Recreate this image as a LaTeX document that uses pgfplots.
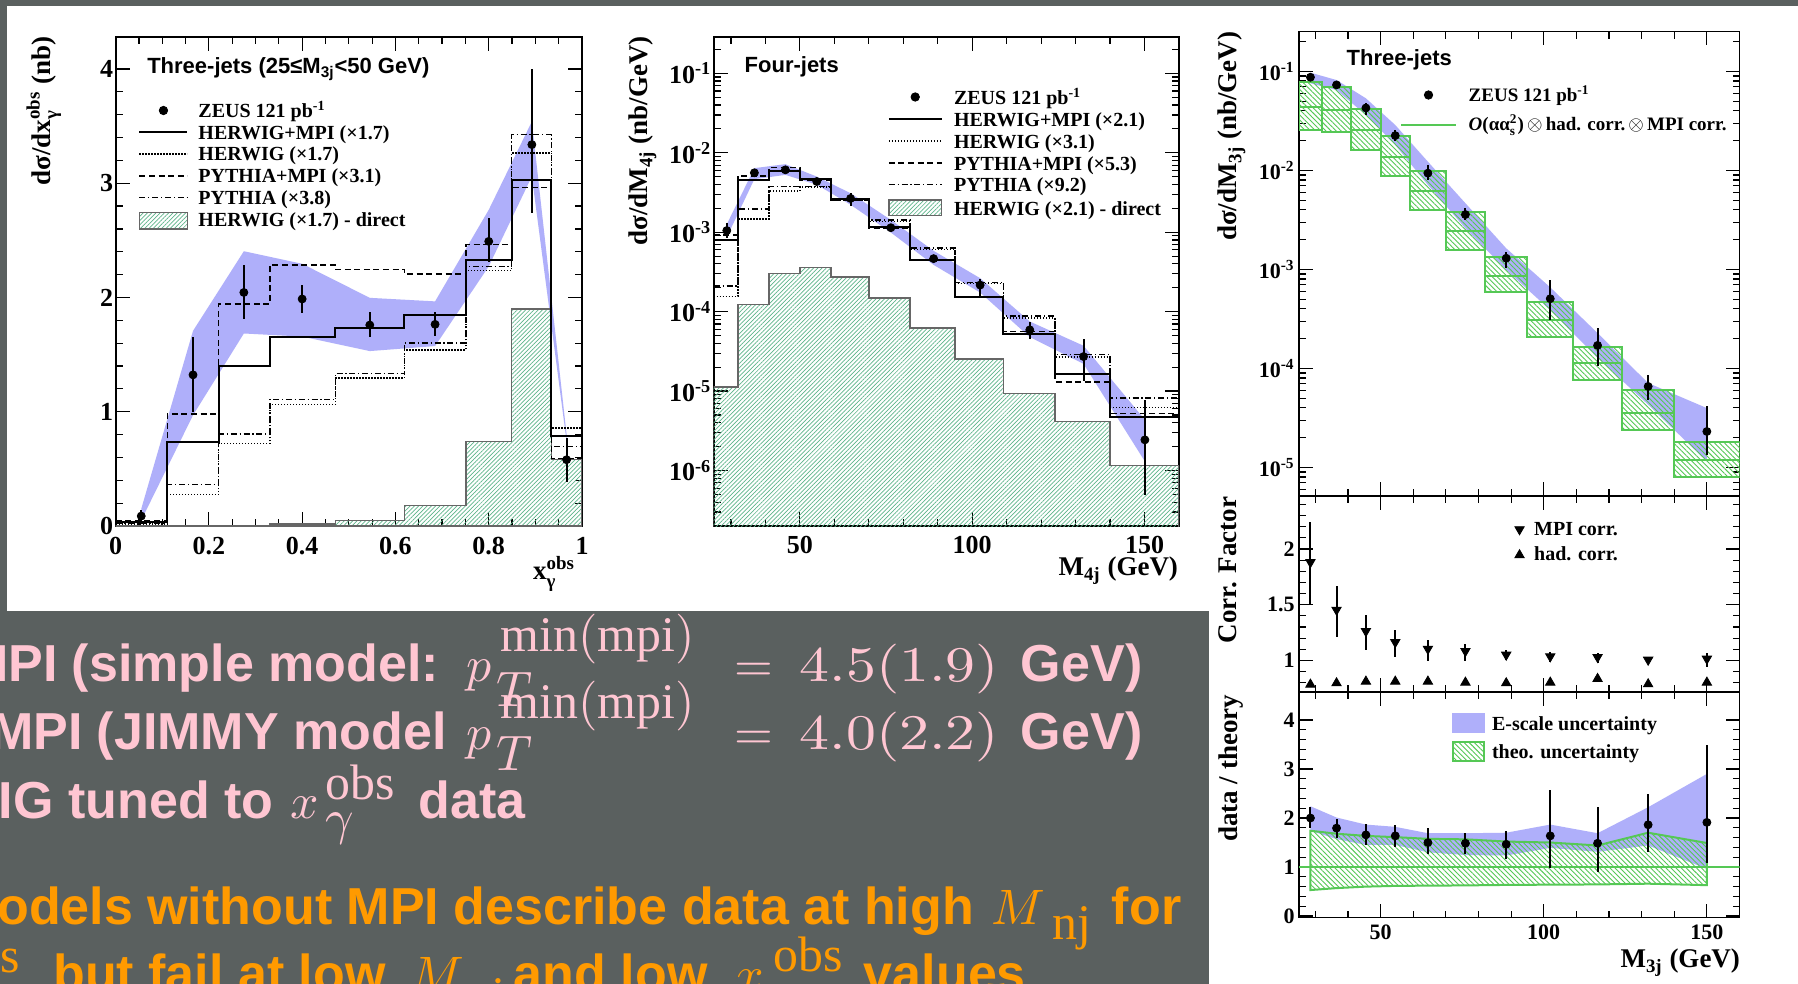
\documentclass[border=0pt]{standalone}
\usepackage{amsmath}
\usepackage{graphicx}
\usepackage{fontspec}
\setmainfont{Liberation Serif}
\setsansfont{Liberation Sans}
\usepackage{pgfplots}
\pgfplotsset{compat=1.18}
\usetikzlibrary{patterns.meta}

\definecolor{bgray}{HTML}{5A605F}
\definecolor{escale}{HTML}{AFAFFA}
\definecolor{theo}{HTML}{55C855}
\definecolor{hatchg}{HTML}{5DB58A}
\definecolor{pinkc}{HTML}{FFC6D2}
\definecolor{orangec}{HTML}{FF9A00}

\tikzset{
  hwmpi/.style={black, line width=1bp},
  hwo/.style={black, line width=0.7bp, dash pattern=on 0.6bp off 0.9bp},
  pympi/.style={black, line width=0.7bp, dash pattern=on 3bp off 1.8bp},
  pyo/.style={black, line width=0.7bp, dash pattern=on 3bp off 1.4bp on 0.6bp off 1.4bp},
  direct/.style={draw=black!60, line width=0.7bp, pattern={Lines[angle=45,distance=1.5bp,line width=0.35bp]}, pattern color=hatchg},
  theobox/.style={draw=theo, line width=1bp, pattern={Lines[angle=-45,distance=1.8bp,line width=0.45bp]}, pattern color=theo},
  band/.style={fill=escale, draw=none},
}
\newcommand\tickf{\bfseries\fontsize{13bp}{13bp}\selectfont}
\newcommand\tickfs{\bfseries\fontsize{11bp}{11bp}\selectfont}
\newcommand\legf{\bfseries\fontsize{10bp}{10bp}\selectfont}
\newcommand\legfs{\bfseries\fontsize{9.5bp}{9.5bp}\selectfont}
\newcommand\labf{\bfseries\fontsize{13.5bp}{13.5bp}\selectfont}
\newcommand\titf{\sffamily\bfseries\fontsize{11bp}{11bp}\selectfont}
\newcommand\slsf{\sffamily\bfseries\fontsize{26bp}{26bp}\selectfont}
\newcommand\sm[1]{\scalebox{2.5}{$#1$}}
\newcommand\smw[1]{\scalebox{3.0}[2.5]{$#1$}}

\pgfplotsset{
  rootaxis/.style={
    scale only axis, anchor=south west, tick pos=both, tick align=inside,
    major tick length=7bp, minor tick length=3.5bp,
    every tick/.style={black, line width=0.6bp},
    axis line style={black, line width=0.9bp},
    ticklabel style={font=\tickf},
    yticklabel style={inner sep=1bp},
  },
  rootleg/.style={legend style={draw=none, fill=none, inner sep=0pt, outer sep=0pt,
      anchor=north west, cells={anchor=base west},
      nodes={inner sep=0pt, text height=7bp, text depth=2bp}}},
  dataerr/.style={black, only marks, mark=*, mark size=2bp, forget plot,
      error bars/.cd, y dir=both, y explicit, error mark=none,
      error bar style={black, line width=1bp}},
}

\begin{document}
\begin{tikzpicture}
\path[use as bounding box] (0,0) rectangle (899bp,-492bp);
\clip (0,0) rectangle (899bp,-492bp);
\begin{scope}[x=0.5bp,y=-0.5bp]
\fill[white] (0,0) rectangle (1798,984);
\fill[bgray] (0,0) rectangle (1798,6);
\fill[bgray] (0,0) rectangle (7,611);
\fill[bgray] (0,611) rectangle (1209,984);
\end{scope}

% ================= LEFT PANEL =================
\begin{axis}[rootaxis, rootleg, at={(57.8bp,-263bp)}, width=233.2bp, height=244.5bp,
  xmin=0, xmax=1, ymin=0, ymax=4.28,
  xtick={0,0.2,0.4,0.6,0.8,1}, xticklabels={0,0.2,0.4,0.6,0.8,1}, minor x tick num=3,
  ytick={0,1,2,3,4}, yticklabels={0,1,2,3,4}, minor y tick num=4,
  xticklabel style={yshift=-2bp},
  legend style={at={(0.049,0.864)}, font=\legf, row sep=1.85bp, column sep=5bp},
]
\addlegendimage{legend image code/.code={\fill[black] (12bp,3.5bp) circle (2.1bp);}}
\addlegendentry{ZEUS 121 pb\textsuperscript{-1}}
\addlegendimage{legend image code/.code={\draw[hwmpi] (0bp,3.4bp) -- (24bp,3.4bp);}}
\addlegendentry{HERWIG+MPI (×1.7)}
\addlegendimage{legend image code/.code={\draw[hwo] (0bp,3.4bp) -- (24bp,3.4bp);}}
\addlegendentry{HERWIG (×1.7)}
\addlegendimage{legend image code/.code={\draw[pympi] (0bp,3.4bp) -- (24bp,3.4bp);}}
\addlegendentry{PYTHIA+MPI (×3.1)}
\addlegendimage{legend image code/.code={\draw[pyo] (0bp,3.4bp) -- (24bp,3.4bp);}}
\addlegendentry{PYTHIA (×3.8)}
\addlegendimage{legend image code/.code={\draw[direct] (0bp,-0.95bp) rectangle (24bp,7.1bp);}}
\addlegendentry{HERWIG (×1.7) - direct}

\addplot[band, forget plot] coordinates {(0.055,0.15) (0.166,1.708) (0.275,2.405) (0.4,2.295) (0.545,1.997) (0.685,1.966) (0.8,2.767) (0.8925,3.54) (0.967,0.80) (0.967,0.74) (0.8925,3.06) (0.8,2.272) (0.685,1.575) (0.545,1.531) (0.4,1.658) (0.275,1.685) (0.166,0.97) (0.055,0.05)} -- cycle;
\addplot[direct, const plot, forget plot] coordinates {(0,0) (0.111,0) (0.221,0.004) (0.331,0.016) (0.471,0.046) (0.619,0.177) (0.751,0.74) (0.849,1.9) (0.934,0.58) (1,0.58) (1,0)} -- cycle;
\addplot[pyo, const plot, forget plot] coordinates {(0,0.023) (0.111,0.362) (0.221,0.807) (0.331,1.109) (0.471,1.337) (0.619,1.601) (0.751,2.272) (0.849,3.425) (0.934,0.696) (1,0.696)};
\addplot[pympi, const plot, forget plot] coordinates {(0,0.044) (0.111,0.98) (0.221,1.943) (0.331,2.285) (0.471,2.245) (0.619,2.204) (0.751,2.462) (0.849,2.962) (0.934,0.589) (1,0.589)};
\addplot[hwo, const plot, forget plot] coordinates {(0,0.017) (0.111,0.275) (0.221,0.72) (0.331,1.062) (0.471,1.296) (0.619,1.541) (0.751,2.235) (0.849,3.265) (0.934,0.857) (1,0.857)};
\addplot[hwmpi, const plot, forget plot] coordinates {(0,0.034) (0.111,0.737) (0.221,1.40) (0.331,1.658) (0.471,1.732) (0.619,1.849) (0.751,2.325) (0.849,3.027) (0.934,0.784) (1,0.784)};
\addplot[dataerr] coordinates {
 (0.055,0.087) += (0,0.05) -= (0,0.05)
 (0.166,1.323) += (0,0.329) -= (0,0.325)
 (0.275,2.044) += (0,0.241) -= (0,0.228)
 (0.400,1.987) += (0,0.123) -= (0,0.121)
 (0.545,1.759) += (0,0.114) -= (0,0.101)
 (0.685,1.765) += (0,0.111) -= (0,0.100)
 (0.800,2.491) += (0,0.205) -= (0,0.184)
 (0.8925,3.338) += (0,0.666) -= (0,0.598)
 (0.967,0.580) += (0,0.190) -= (0,0.199)
};
\end{axis}

% ================= MIDDLE PANEL =================
\begin{axis}[rootaxis, rootleg, ymode=log, at={(356.85bp,-263bp)}, width=232.65bp, height=244.5bp,
  xmin=25, xmax=160, ymin=2e-7, ymax=0.287,
  xtick={50,100,150}, xticklabels={50,100,150},
  minor xtick={30,40,60,70,80,90,110,120,130,140},
  xticklabel style={yshift=-1.5bp},
  ytick={1e-6,1e-5,1e-4,1e-3,1e-2,1e-1},
  yticklabels={10\textsuperscript{-6},10\textsuperscript{-5},10\textsuperscript{-4},10\textsuperscript{-3},10\textsuperscript{-2},10\textsuperscript{-1}},
  minor ytick={2e-7,3e-7,4e-7,5e-7,6e-7,7e-7,8e-7,9e-7,2e-6,3e-6,4e-6,5e-6,6e-6,7e-6,8e-6,9e-6,2e-5,3e-5,4e-5,5e-5,6e-5,7e-5,8e-5,9e-5,2e-4,3e-4,4e-4,5e-4,6e-4,7e-4,8e-4,9e-4,2e-3,3e-3,4e-3,5e-3,6e-3,7e-3,8e-3,9e-3,0.02,0.03,0.04,0.05,0.06,0.07,0.08,0.09,0.2},
  legend style={at={(0.3742,0.8896)}, font=\legf, row sep=1.85bp, column sep=5.7bp},
]
\addlegendimage{legend image code/.code={\fill[black] (13.2bp,4bp) circle (2.1bp);}}
\addlegendentry{ZEUS 121 pb\textsuperscript{-1}}
\addlegendimage{legend image code/.code={\draw[hwmpi] (0bp,3.6bp) -- (26.4bp,3.6bp);}}
\addlegendentry{HERWIG+MPI (×2.1)}
\addlegendimage{legend image code/.code={\draw[hwo] (0bp,3.6bp) -- (26.4bp,3.6bp);}}
\addlegendentry{HERWIG (×3.1)}
\addlegendimage{legend image code/.code={\draw[pympi] (0bp,3.6bp) -- (26.4bp,3.6bp);}}
\addlegendentry{PYTHIA+MPI (×5.3)}
\addlegendimage{legend image code/.code={\draw[pyo] (0bp,3.6bp) -- (26.4bp,3.6bp);}}
\addlegendentry{PYTHIA (×9.2)}
\addlegendimage{legend image code/.code={\draw[direct] (0bp,-0.15bp) rectangle (26.4bp,7.65bp);}}
\addlegendentry{HERWIG (×2.1) - direct}

\addplot[band, forget plot] coordinates {(28.8,1.26e-3) (36.8,6.41e-3) (45.8,7.19e-3) (54.9,5.02e-3) (64.7,3.10e-3) (76.4,1.43e-3) (88.8,5.83e-4) (102.3,2.64e-4) (116.7,7.52e-5) (132.3,3.72e-5) (150.1,4.35e-6) (150.1,1.30e-6) (132.3,2.20e-5) (116.7,4.78e-5) (102.3,1.74e-4) (88.8,3.88e-4) (76.4,9.91e-4) (64.7,2.22e-3) (54.9,3.97e-3) (45.8,5.27e-3) (36.8,4.66e-3) (28.8,8.67e-4)} -- cycle;
\addplot[direct, const plot, forget plot] coordinates {(25,1e-9) (25,1.12e-5) (32,1.23e-4) (41,3.0e-4) (50,3.58e-4) (59,2.72e-4) (70,1.48e-4) (82,6.2e-5) (95,2.54e-5) (109,9.4e-6) (124,4.14e-6) (140,1.15e-6) (160,1.15e-6) (160,1e-9)} -- cycle;
\addplot[pyo, const plot, forget plot] coordinates {(25,2.1e-4) (32,1.95e-3) (41,3.75e-3) (50,3.75e-3) (59,2.55e-3) (70,1.43e-3) (82,6.3e-4) (95,2.34e-4) (109,8.8e-5) (124,2.88e-5) (140,8.2e-6) (160,8.2e-6)};
\addplot[hwo, const plot, forget plot] coordinates {(25,1.55e-4) (32,1.46e-3) (41,3.3e-3) (50,3.7e-3) (59,2.5e-3) (70,1.36e-3) (82,6.1e-4) (95,2.25e-4) (109,8.3e-5) (124,2.7e-5) (140,6.2e-6) (160,6.2e-6)};
\addplot[pympi, const plot, forget plot] coordinates {(25,9.2e-4) (32,5.1e-3) (41,6.5e-3) (50,4.55e-3) (59,2.55e-3) (70,1.12e-3) (82,4.4e-4) (95,1.5e-4) (109,5.6e-5) (124,1.3e-5) (140,5.2e-6) (160,5.2e-6)};
\addplot[hwmpi, const plot, forget plot] coordinates {(25,8.0e-4) (32,4.6e-3) (41,5.9e-3) (50,4.65e-3) (59,2.64e-3) (70,1.16e-3) (82,4.5e-4) (95,1.53e-4) (109,5.22e-5) (124,1.62e-5) (140,4.7e-6) (160,4.7e-6)};
\addplot[dataerr] coordinates {
 (28.8,1.05e-3) += (0,2.6e-4) -= (0,2.1e-4)
 (36.8,5.6e-3) += (0,5e-4) -= (0,5e-4)
 (45.8,6.1e-3) += (0,4e-4) -= (0,4e-4)
 (54.9,4.35e-3) += (0,4e-4) -= (0,4e-4)
 (64.7,2.66e-3) += (0,4.4e-4) -= (0,5.1e-4)
 (76.4,1.14e-3) += (0,1.3e-4) -= (0,1.3e-4)
 (88.8,4.65e-4) += (0,4.5e-5) -= (0,4.5e-5)
 (102.3,2.16e-4) += (0,4.1e-5) -= (0,6.8e-5)
 (116.7,5.9e-5) += (0,1.6e-5) -= (0,1.4e-5)
 (132.3,2.72e-5) += (0,1.83e-5) -= (0,1.4e-5)
 (150.1,2.43e-6) += (0,5.33e-6) -= (0,1.936e-6)
};
\end{axis}

% ================= RIGHT TOP =================
\begin{axis}[rootaxis, rootleg, ymode=log, at={(649.5bp,-248bp)}, width=220.25bp, height=232.25bp,
  xmin=25, xmax=160, ymin=5.15e-6, ymax=0.2535,
  xtick={50,100,150}, xticklabels={}, minor xtick={30,40,60,70,80,90,110,120,130,140},
  ytick={1e-5,1e-4,1e-3,1e-2,1e-1},
  yticklabels={10\textsuperscript{-5},10\textsuperscript{-4},10\textsuperscript{-3},10\textsuperscript{-2},10\textsuperscript{-1}},
  minor ytick={6e-6,7e-6,8e-6,9e-6,2e-5,3e-5,4e-5,5e-5,6e-5,7e-5,8e-5,9e-5,2e-4,3e-4,4e-4,5e-4,6e-4,7e-4,8e-4,9e-4,2e-3,3e-3,4e-3,5e-3,6e-3,7e-3,8e-3,9e-3,0.02,0.03,0.04,0.05,0.06,0.07,0.08,0.09,0.2},
  ticklabel style={font=\tickfs}, yticklabel style={inner sep=2bp},
  legend style={at={(0.2293,0.879)}, font=\legfs, row sep=5.5bp, column sep=5.85bp},
]
\addlegendimage{legend image code/.code={\fill[black] (13.75bp,3.35bp) circle (2.1bp);}}
\addlegendentry{ZEUS 121 pb\textsuperscript{-1}}
\addlegendimage{legend image code/.code={\draw[theo, line width=1bp] (0bp,2.85bp) -- (27.5bp,2.85bp);}}
\addlegendentry{{\itshape O}(αα$_{\text{s}}^{\text{2}}$)\,$\otimes$\,had. corr.\,$\otimes$\,MPI corr.}

\addplot[band, forget plot] coordinates {(28.5,0.0973) (36.5,0.082) (45.5,0.0536) (54.5,0.0288) (64.5,0.01227) (76,0.00467) (88.5,0.001637) (102,6.6e-4) (116.5,2.28e-4) (132,7.13e-5) (150,3.98e-5) (150,1.15e-5) (132,4.31e-5) (116.5,1.28e-4) (102,3.89e-4) (88.5,9.89e-4) (76,0.0026) (64.5,0.00714) (54.5,0.0181) (45.5,0.0364) (36.5,0.065) (28.5,0.076)} -- cycle;
\addplot[theobox, forget plot] coordinates {(25,0.0257) (32,0.0257) (32,0.0778) (25,0.0778)} -- cycle;
\addplot[theobox, forget plot] coordinates {(32,0.0244) (41,0.0244) (41,0.069) (32,0.069)} -- cycle;
\addplot[theobox, forget plot] coordinates {(41,0.0162) (50,0.0162) (50,0.042) (41,0.042)} -- cycle;
\addplot[theobox, forget plot] coordinates {(50,0.0087) (59,0.0087) (59,0.0222) (50,0.0222)} -- cycle;
\addplot[theobox, forget plot] coordinates {(59,0.0040) (70,0.0040) (70,0.0098) (59,0.0098)} -- cycle;
\addplot[theobox, forget plot] coordinates {(70,0.00159) (82,0.00159) (82,0.0038) (70,0.0038)} -- cycle;
\addplot[theobox, forget plot] coordinates {(82,5.9e-4) (95,5.9e-4) (95,1.325e-3) (82,1.325e-3)} -- cycle;
\addplot[theobox, forget plot] coordinates {(95,2.06e-4) (109,2.06e-4) (109,4.69e-4) (95,4.69e-4)} -- cycle;
\addplot[theobox, forget plot] coordinates {(109,7.7e-5) (124,7.7e-5) (124,1.65e-4) (109,1.65e-4)} -- cycle;
\addplot[theobox, forget plot] coordinates {(124,2.4e-5) (140,2.4e-5) (140,6.1e-5) (124,6.1e-5)} -- cycle;
\addplot[theobox, forget plot] coordinates {(140,8.0e-6) (160,8.0e-6) (160,1.81e-5) (140,1.81e-5)} -- cycle;
\addplot[theo, line width=1bp, const plot, forget plot] coordinates {(25,0.0435) (32,0.041) (41,0.0256) (50,0.0138) (59,0.0062) (70,0.00243) (82,8.65e-4) (95,3.06e-4) (109,1.14e-4) (124,3.55e-5) (140,1.2e-5) (160,1.2e-5)};
\addplot[dataerr] coordinates {
 (28.5,0.0875) += (0,0.0075) -= (0,0.0065)
 (36.5,0.0732) += (0,0.006) -= (0,0.006)
 (45.5,0.0428) += (0,0.0054) -= (0,0.0061)
 (54.5,0.0225) += (0,0.003) -= (0,0.0027)
 (64.5,0.0094) += (0,0.0019) -= (0,0.0013)
 (76,0.00359) += (0,0.0006) -= (0,0.00045)
 (88.5,0.0013) += (0,0.0002) -= (0,0.00026)
 (102,5.07e-4) += (0,2.81e-4) -= (0,2.01e-4)
 (116.5,1.71e-4) += (0,8.5e-5) -= (0,6.4e-5)
 (132,6.59e-5) += (0,2.06e-5) -= (0,1.76e-5)
 (150,2.31e-5) += (0,1.89e-5) -= (0,0.97e-5)
};
\end{axis}

% ================= RIGHT MIDDLE =================
\begin{axis}[rootaxis, rootleg, at={(649.5bp,-346bp)}, width=220.25bp, height=98bp,
  xmin=25, xmax=160, ymin=0.7175, ymax=2.475,
  xtick={50,100,150}, xticklabels={}, minor xtick={30,40,60,70,80,90,110,120,130,140},
  ytick={1,1.5,2}, yticklabels={1,1.5,2},
  minor ytick={0.8,0.9,1.1,1.2,1.3,1.4,1.6,1.7,1.8,1.9,2.1,2.2,2.3,2.4},
  ticklabel style={font=\tickfs}, yticklabel style={inner sep=2bp},
  legend style={at={(0.49,0.872)}, font=\legf, row sep=3.85bp, column sep=5bp},
]
\addlegendimage{legend image code/.code={\draw[black, mark=triangle*, mark size=2.7bp, mark options={rotate=180, fill=black}] plot coordinates {(6bp,2.85bp)};}}
\addlegendentry{MPI corr.}
\addlegendimage{legend image code/.code={\draw[black, mark=triangle*, mark size=2.7bp, mark options={fill=black}] plot coordinates {(6bp,2.85bp)};}}
\addlegendentry{had. corr.}
\addplot[black, only marks, mark=triangle*, mark size=2.7bp, mark options={rotate=180, fill=black}, forget plot,
  error bars/.cd, y dir=both, y explicit, error mark=none, error bar style={black, line width=1bp}] coordinates {
 (28.5,1.881) += (0,0.358) -= (0,0.382)
 (36.5,1.454) += (0,0.218) -= (0,0.245)
 (45.5,1.263) += (0,0.149) -= (0,0.167)
 (54.5,1.164) += (0,0.111) -= (0,0.134)
 (64.5,1.104) += (0,0.084) -= (0,0.11)
 (76,1.084) += (0,0.065) -= (0,0.09)
 (88.5,1.051) += (0,0.04) -= (0,0.05)
 (102,1.036) += (0,0.04) -= (0,0.05)
 (116.5,1.03) += (0,0.04) -= (0,0.05)
 (132,1.006) += (0,0.01) -= (0,0.01)
 (150,1.015) += (0,0.055) -= (0,0.075)
};
\addplot[black, only marks, mark=triangle*, mark size=2.7bp, mark options={fill=black}, forget plot] coordinates {
 (28.5,0.785) (36.5,0.797) (45.5,0.812) (54.5,0.812) (64.5,0.812) (76,0.803) (88.5,0.797) (102,0.803) (116.5,0.836) (132,0.788) (150,0.803)};
\end{axis}

% ================= RIGHT BOTTOM =================
\begin{axis}[rootaxis, rootleg, at={(649.5bp,-458.75bp)}, width=220.25bp, height=112.75bp,
  xmin=25, xmax=160, ymin=-0.03, ymax=4.571,
  xtick={50,100,150}, xticklabels={50,100,150}, minor xtick={30,40,60,70,80,90,110,120,130,140},
  ytick={0,1,2,3,4}, yticklabels={0,1,2,3,4}, minor y tick num=4,
  ticklabel style={font=\tickfs}, yticklabel style={inner sep=2bp},
  legend style={at={(0.3467,0.906)}, font=\legf, row sep=3.1bp, column sep=3.35bp},
]
\addlegendimage{legend image code/.code={\fill[escale] (0bp,-1.2bp) rectangle (15.8bp,8.4bp);}}
\addlegendentry{E-scale uncertainty}
\addlegendimage{legend image code/.code={\draw[theobox] (0bp,-1.2bp) rectangle (15.8bp,8.4bp);}}
\addlegendentry{theo. uncertainty}
\addplot[band, forget plot] coordinates {(28.5,2.24) (36.5,2.01) (45.5,1.866) (54.5,1.82) (64.5,1.69) (76,1.69) (88.5,1.70) (102,1.866) (116.5,1.69) (132,2.22) (150,2.9) (150,0.96) (132,1.44) (116.5,1.31) (102,1.39) (88.5,1.235) (76,1.245) (64.5,1.30) (54.5,1.45) (45.5,1.45) (36.5,1.57) (28.5,1.74)} -- cycle;
\addplot[theobox, forget plot] coordinates {(28.5,1.74) (36.5,1.68) (45.5,1.635) (54.5,1.61) (64.5,1.575) (76,1.565) (88.5,1.52) (102,1.5) (116.5,1.44) (132,1.70) (150,1.49) (150,0.63) (132,0.66) (116.5,0.645) (102,0.64) (88.5,0.635) (76,0.625) (64.5,0.62) (54.5,0.615) (45.5,0.6) (36.5,0.57) (28.5,0.53)} -- cycle;
\addplot[theo, line width=1bp, forget plot] coordinates {(25,1) (160,1)};
\addplot[dataerr] coordinates {
 (28.5,2.0) += (0,0.22) -= (0,0.21)
 (36.5,1.794) += (0,0.186) -= (0,0.194)
 (45.5,1.656) += (0,0.22) -= (0,0.206)
 (54.5,1.636) += (0,0.224) -= (0,0.226)
 (64.5,1.498) += (0,0.292) -= (0,0.228)
 (76,1.485) += (0,0.215) -= (0,0.225)
 (88.5,1.464) += (0,0.261) -= (0,0.309)
 (102,1.636) += (0,0.928) -= (0,0.653)
 (116.5,1.485) += (0,0.735) -= (0,0.592)
 (132,1.862) += (0,0.619) -= (0,0.549)
 (150,1.911) += (0,1.579) -= (0,0.825)
};
\end{axis}

% ================= TEXT =================
\begin{scope}[x=0.5bp,y=-0.5bp,every node/.style={inner sep=0pt, outer sep=0pt}]
% panel titles
\node[anchor=base west, font=\titf] at (147.3,74) {Three-jets (25≤M\textsubscript{3j}<50 GeV)};
\node[anchor=base west, font=\titf] at (744.7,72.7) {Four-jets};
\node[anchor=base west, font=\titf] at (1346.7,65.5) {Three-jets};
% axis titles
\node[rotate=90, anchor=base east, font=\labf] at (50,36.5) {dσ/dx$^{\text{obs}}_{\text{γ}}$ (nb)};
\node[rotate=90, anchor=base east, font=\labf] at (648,36.5) {dσ/dM$_{\text{4j}}$ (nb/GeV)};
\node[rotate=90, anchor=base east, font=\labf] at (1237,31.7) {dσ/dM$_{\text{3j}}$ (nb/GeV)};
\node[rotate=90, anchor=base east, font=\labf] at (1237,496.7) {Corr. Factor};
\node[rotate=90, anchor=base east, font=\labf] at (1238,695) {data / theory};
\node[anchor=base east, font=\labf] at (575,580) {x$^{\text{obs}}_{\text{γ}}$};
\node[anchor=base east, font=\labf] at (1178,576) {M$_{\text{4j}}$ (GeV)};
\node[anchor=base east, font=\labf] at (1740,968) {M$_{\text{3j}}$ (GeV)};

% slide text
\begin{scope}[every node/.append style={anchor=base west}]
\node[pinkc, font=\slsf] at (-35,681.7) {MPI (simple model:};
\node[pinkc] at (466.6,681.7) {\sm{p}};
\node[pinkc] at (497,707) {\sm{T}};
\node[pinkc] at (501,651.7) {\sm{\mathrm{min(mpi)}}};
\node[pinkc] at (734.4,681.7) {\sm{=}};
\node[pinkc] at (799.7,681.7) {\smw{4.5(1.9)}};
\node[pinkc, font=\slsf] at (1021,681.7) {GeV)};

\node[pinkc, font=\slsf] at (-10,750) {MPI (JIMMY model};
\node[pinkc] at (466.6,750) {\sm{p}};
\node[pinkc] at (497,771) {\sm{T}};
\node[pinkc] at (501,718.3) {\sm{\mathrm{min(mpi)}}};
\node[pinkc] at (734.4,750) {\sm{=}};
\node[pinkc] at (799.7,750) {\smw{4.0(2.2)}};
\node[pinkc, font=\slsf] at (1021,750) {GeV)};

\node[pinkc, font=\slsf] at (-159,818.3) {HERWIG tuned to};
\node[pinkc] at (290.6,818.3) {\sm{x}};
\node[pinkc] at (326,800) {\sm{\mathrm{obs}}};
\node[pinkc] at (326,834.5) {\sm{\gamma}};
\node[pinkc, font=\slsf] at (418.4,818.3) {data};

\node[orangec, font=\slsf] at (-49,925) {models without MPI describe data at high};
\node[orangec] at (991.5,925) {\sm{M}};
\node[orangec] at (1052.7,940) {\sm{\mathrm{nj}}};
\node[orangec, font=\slsf] at (1112,925) {for};

\node[orangec, anchor=base east] at (20,973) {\sm{\mathrm{obs}}};
\node[orangec, font=\slsf] at (53.4,992) {but fail at low};
\node[orangec] at (411,992) {\sm{M}};
\node[orangec] at (467,1012) {\sm{\mathrm{nj}}};
\node[orangec, font=\slsf] at (514,992) {and low};
\node[orangec] at (736,992) {\sm{x}};
\node[orangec] at (774,971.7) {\sm{\mathrm{obs}}};
\node[orangec] at (774,1008) {\sm{\gamma}};
\node[orangec, font=\slsf] at (864,992) {values};
\end{scope}
\end{scope}
\end{tikzpicture}
\end{document}
